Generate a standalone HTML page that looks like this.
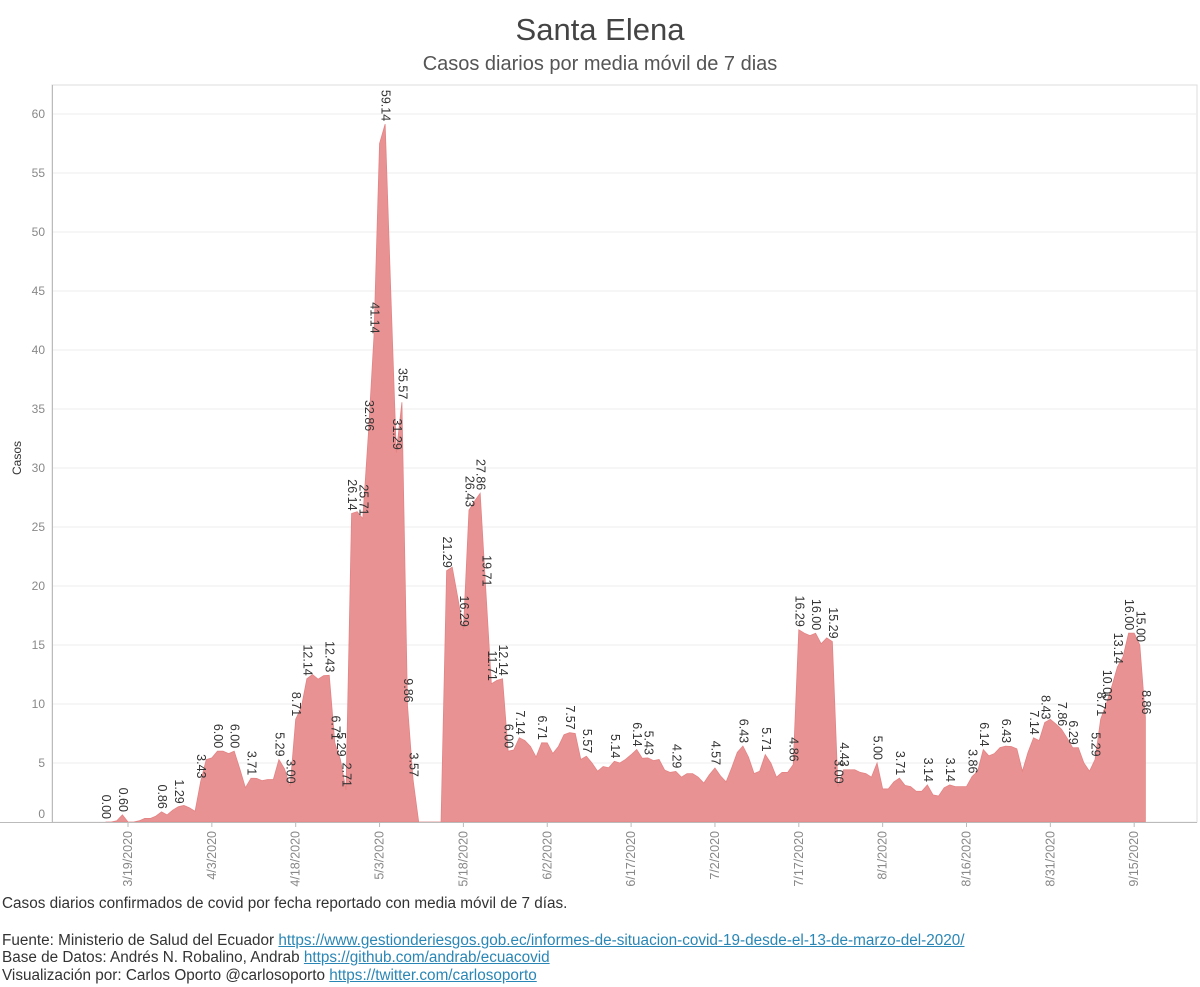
<!DOCTYPE html>
<html><head><meta charset="utf-8"><style>
body{margin:0;background:#fff;font-family:"Liberation Sans",sans-serif;}
#wrap{position:relative;width:1200px;height:987px;overflow:hidden;}
.ft{position:absolute;left:2px;font-size:15.3px;color:#333;white-space:nowrap;}
.ft a{color:#2a86b5;text-decoration:underline;}
</style></head><body>
<div id="wrap">
<svg id="chart" width="1200" height="890" style="position:absolute;left:0;top:0">
<text x="600" y="40" text-anchor="middle" font-size="31" fill="#444" font-family="Liberation Sans,sans-serif">Santa Elena</text>
<text x="600" y="70" text-anchor="middle" font-size="20" fill="#555" font-family="Liberation Sans,sans-serif">Casos diarios por media móvil de 7 dias</text>
<text transform="translate(21,458) rotate(-90)" text-anchor="middle" font-size="12" fill="#333" font-family="Liberation Sans,sans-serif">Casos</text>
<g id="grid"></g><g id="area"></g><g id="labels"></g><g id="axes"></g>
</svg>
<div class="ft" style="top:895px">Casos diarios confirmados de covid por fecha reportado con media móvil de 7 días.</div>
<div class="ft" style="top:932px">Fuente: Ministerio de Salud del Ecuador <a>https://www.gestionderiesgos.gob.ec/informes-de-situacion-covid-19-desde-el-13-de-marzo-del-2020/</a></div>
<div class="ft" style="top:949px">Base de Datos: Andrés N. Robalino, Andrab <a>https://github.com/andrab/ecuacovid</a></div>
<div class="ft" style="top:967px">Visualización por: Carlos Oporto @carlosoporto <a>https://twitter.com/carlosoporto</a></div>
</div>
<script>
// daily values starting 3/15/2020
const values = [0,0,0.1,0.6,0,0,0.1,0.3,0.3,0.5,0.86,0.6,1.0,1.29,1.4,1.2,0.9,3.43,5.29,5.43,6.00,6.0,5.8,6.00,4.5,2.9,3.71,3.7,3.5,3.6,3.6,5.29,4.5,3.00,8.71,9.7,12.14,12.5,12.1,12.4,12.43,6.71,5.29,2.71,26.14,26.3,25.71,32.86,41.14,57.5,59.14,45,31.29,35.57,9.86,3.57,0,0,0,0,0,21.29,21.6,19,16.29,26.43,27.2,27.86,19.71,11.71,12.0,12.14,6.00,6.1,7.14,6.9,6.4,5.5,6.71,6.7,5.8,6.4,7.4,7.57,7.5,5.3,5.57,5.0,4.3,4.7,4.6,5.14,5.0,5.3,5.7,6.14,5.4,5.43,5.2,5.3,4.4,4.2,4.29,3.8,4.1,4.1,3.8,3.3,4.0,4.57,3.9,3.4,4.6,5.9,6.43,5.5,4.1,4.3,5.71,5.0,3.8,4.2,4.2,4.86,16.29,16.0,15.8,16.00,15.1,15.6,15.29,3.00,4.43,4.43,4.43,4.2,4.1,3.8,5.00,2.8,2.8,3.4,3.71,3.1,3.0,2.6,2.6,3.14,2.3,2.2,2.9,3.14,3.0,3.0,3.0,3.86,4.3,6.14,5.6,5.8,6.3,6.43,6.4,6.2,4.3,5.9,7.14,6.9,8.43,8.7,8.3,7.86,7.1,6.29,6.3,5.0,4.3,5.29,8.71,10.00,11.5,13.14,14.0,16.00,16.0,15.00,8.86];
const labelIdx = [0,3,10,13,17,20,23,26,31,33,34,36,40,41,42,43,44,46,47,48,50,52,53,54,55,61,64,65,67,68,69,71,72,74,78,83,86,91,95,97,102,109,114,118,123,124,127,130,131,132,138,142,147,151,155,157,161,166,168,171,173,177,178,179,181,183,185,186];
const yTicks = [0,5,10,15,20,25,30,35,40,45,50,55,60];
const xTickIdx = [4,19,34,49,64,79,94,109,124,139,154,169,184];
const xTickLabels = ["3/19/2020","4/3/2020","4/18/2020","5/3/2020","5/18/2020","6/2/2020","6/17/2020","7/2/2020","7/17/2020","8/1/2020","8/16/2020","8/31/2020","9/15/2020"];

const NS="http://www.w3.org/2000/svg";
function x(i){return 128+(i-4)*5.59;}
function y(v){return 822-v*11.8;}
function mk(tag,attrs,parent){const e=document.createElementNS(NS,tag);for(const k in attrs)e.setAttribute(k,attrs[k]);document.getElementById(parent).appendChild(e);return e;}
const F="Liberation Sans,sans-serif";
let fr=mk('rect',{x:52,y:85,width:1145,height:737,fill:'none',stroke:'#ddd'},'grid');


yTicks.forEach(t=>{
  const g=mk('line',{x1:52,x2:1197,y1:y(t),y2:y(t),stroke:'#ececec'},'grid');
  
  
  const tx=mk('text',{x:45,y:Math.min(y(t)+4,818),'text-anchor':'end','font-size':12,fill:'#888','font-family':F},'axes');
  tx.textContent=t;
  
  
});
let d='M'+x(0)+','+y(0);
values.forEach((v,i)=>{d+=' L'+x(i).toFixed(2)+','+y(v).toFixed(2);});
d+=' L'+x(values.length-1)+','+y(0)+' Z';
const p=mk('path',{d:d,fill:'#e99293',stroke:'#e38384','stroke-width':0.8},'area');


labelIdx.forEach(i=>{
  const v=values[i];
  const t=mk('text',{transform:`translate(${x(i)+0.5},${y(v)-3}) rotate(90)`,'text-anchor':'end','dominant-baseline':'central','font-size':12.5,fill:'#333','font-family':F},'labels');
  t.textContent=v.toFixed(2);
  
  
});
const ax=mk('line',{x1:0,x2:1197,y1:822.5,y2:822.5,stroke:'#bbb'},'axes');


const ay=mk('line',{x1:52.5,x2:52.5,y1:85,y2:822,stroke:'#bbb'},'axes');


xTickIdx.forEach((i,k)=>{
  const tk=mk('line',{x1:x(i),x2:x(i),y1:822,y2:827,stroke:'#bbb'},'axes');
  
  
  const t=mk('text',{transform:`translate(${x(i)},${831}) rotate(-90)`,'text-anchor':'end','dominant-baseline':'central','font-size':12.5,fill:'#888','font-family':F},'axes');
  t.textContent=xTickLabels[k];
  
  
});
</script>
</body></html>
